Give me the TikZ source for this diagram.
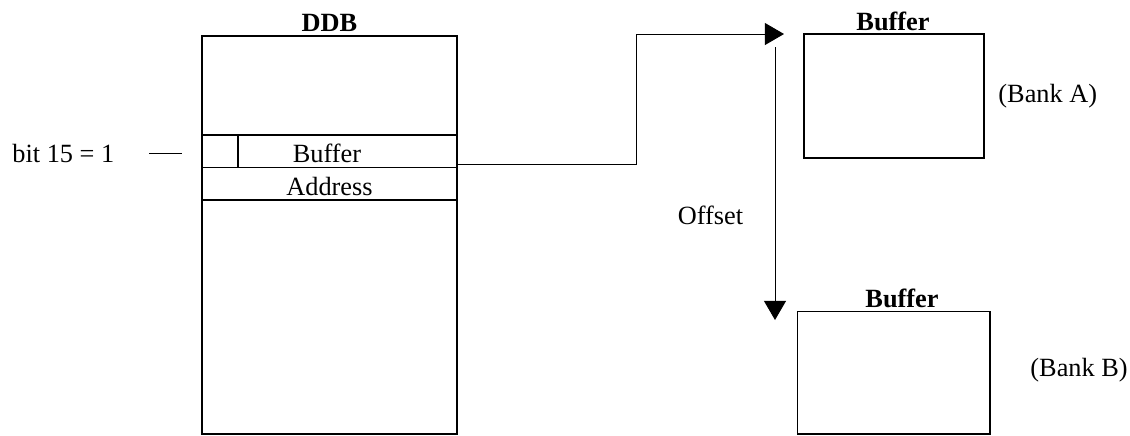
\documentclass[tikz,border=0pt]{standalone}
\usepackage{fontspec}
\setmainfont{Liberation Serif}
\usetikzlibrary{arrows.meta}
\tikzset{
  boite/.style={line width=0.6pt},
  lien/.style={line width=0.45pt},
  fleche/.style={lien,-{Triangle[length=8.7pt,width=10pt]}},
  texte/.style={inner sep=0pt,font=\fontsize{12}{14}\selectfont},
  titre/.style={inner sep=0pt,font=\fontsize{12}{14}\selectfont\bfseries}
}
\begin{document}
\begin{tikzpicture}[x=0.456pt,y=-0.456pt]
    \useasboundingbox (0,0) rectangle (1130,435);

    % Définition des points
    \coordinate (D1) at (202,36);
    \coordinate (D2) at (457,434);
    \coordinate (A1) at (804,34);
    \coordinate (A2) at (984,158);
    \coordinate (B1) at (797.5,311.5);
    \coordinate (B2) at (990,434);
    \coordinate (S) at (457,164);
    \coordinate (T) at (784,34);
    \coordinate (O1) at (775,47);
    \coordinate (O2) at (775,320);
    \coordinate (M1) at (149,153);
    \coordinate (M2) at (182,153);

    % Dessin des boîtes
    \draw[boite] (D1) rectangle (D2);
    \draw[boite] (202,135) -- (457,135);
    \draw[boite] (202,167.5) -- (457,167.5);
    \draw[boite] (202,200) -- (457,200);
    \draw[boite] (238,135) -- (238,167.5);
    \draw[boite] (A1) rectangle (A2);
    \draw[boite] (B1) rectangle (B2);

    % Flèches
    \draw[fleche] (S) -| (636,34) -- (T);
    \draw[fleche] (O1) -- (O2);
    \draw[lien] (M1) -- (M2);

    % Étiquettes
    \node[titre] (ddb) at (329.5,23) {DDB};
    \node[texte] (buf) at (327,153) {Buffer};
    \node[texte] (adr) at (329.5,186) {Address};
    \node[texte,anchor=west] (bit) at (12,153.5) {bit 15 = 1};
    \node[titre] (bufa) at (893,21) {Buffer};
    \node[titre] (bufb) at (902,298) {Buffer};
    \node[texte,anchor=west] (banka) at (998,96) {(Bank A)};
    \node[texte,anchor=west] (bankb) at (1030,370) {(Bank B)};
    \node[texte] (off) at (710.5,215) {Offset};

\end{tikzpicture}
\end{document}
